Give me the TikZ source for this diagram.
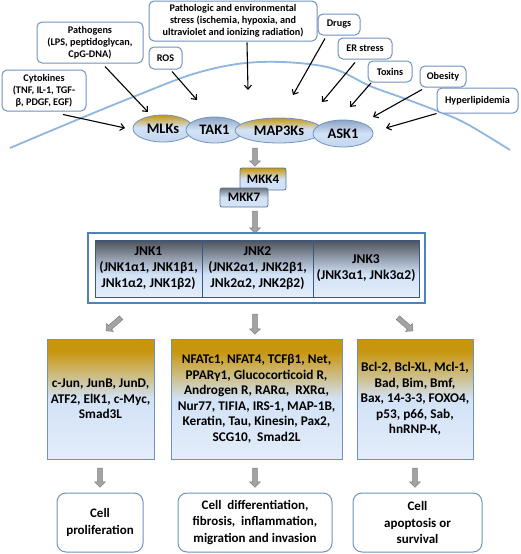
\documentclass[tikz,border=0pt]{standalone}
\usepackage{fontspec}
\setmainfont{Carlito}
\usetikzlibrary{shapes.geometric,shapes.arrows,arrows.meta}
\definecolor{gold}{HTML}{C8960C}
\definecolor{lblue}{HTML}{D2E2F7}
\definecolor{lblue2}{HTML}{E4EDFA}
\definecolor{bgrey}{HTML}{8DA3C3}
\definecolor{dgrey}{HTML}{4C5059}
\definecolor{bord}{HTML}{6F93C0}
\definecolor{memb}{HTML}{8DB6E0}
\definecolor{arrg}{HTML}{A3A3A3}
\definecolor{arrd}{HTML}{7E7E7E}
\definecolor{jnkb}{HTML}{4F81BD}
\pgfdeclareverticalshading{goldbox}{100bp}{color(0bp)=(lblue2); color(25bp)=(lblue2); color(50bp)=(lblue); color(70bp)=(gold); color(100bp)=(gold)}
\pgfdeclareverticalshading{goldell}{100bp}{color(0bp)=(lblue!80!bgrey); color(25bp)=(lblue!80!bgrey); color(52bp)=(lblue); color(75bp)=(gold); color(100bp)=(gold)}
\pgfdeclareverticalshading{greyell}{100bp}{color(0bp)=(lblue!80!bgrey); color(25bp)=(lblue!80!bgrey); color(50bp)=(lblue); color(75bp)=(bgrey); color(100bp)=(bgrey)}
\pgfdeclareverticalshading{jnkshade}{100bp}{color(0bp)=(lblue2); color(25bp)=(lblue2); color(45bp)=(lblue); color(75bp)=(dgrey); color(100bp)=(dgrey)}
\pgfdeclareverticalshading{mkkgrey}{100bp}{color(0bp)=(lblue); color(25bp)=(lblue); color(50bp)=(lblue); color(75bp)=(dgrey!80); color(100bp)=(dgrey!80)}
\pgfdeclareverticalshading{mkkgold}{100bp}{color(0bp)=(lblue); color(25bp)=(lblue); color(50bp)=(lblue); color(75bp)=(gold); color(100bp)=(gold)}
\begin{document}
\begin{tikzpicture}[x=1pt,y=-1pt,
  lbl/.style={draw=bord, line width=1pt, fill=white, rounded corners=5pt, inner sep=0pt, align=center, font=\fontsize{10.2}{12}\selectfont\bfseries},
  ell/.style={ellipse, draw=bord, line width=0.8pt, inner sep=0pt, font=\fontsize{14.5}{16}\selectfont\bfseries},
  mkk/.style={draw=bord!80!black, line width=0.8pt, rounded corners=2pt, inner sep=0pt, font=\fontsize{13}{15}\selectfont\bfseries},
  jcell/.style={draw=jnkb!70!black, line width=0.8pt, shading=jnkshade, inner sep=0pt, align=center, font=\fontsize{13.5}{16}\selectfont\bfseries},
  tbox/.style={draw=bord, line width=1pt, shading=goldbox, inner sep=0pt, align=center, font=\fontsize{13.3}{15.5}\selectfont\bfseries},
  obox/.style={draw=bord, line width=1pt, fill=white, rounded corners=9pt, inner sep=0pt, align=center, font=\fontsize{13}{16.5}\selectfont\bfseries},
  blk/.style={single arrow, fill=arrg, draw=arrd, line width=0.5pt, inner sep=2.2pt, single arrow head extend=2.8pt, minimum height=#1},
  sig/.style={draw=black, line width=1.1pt, -{Straight Barb[length=4pt,width=7pt]}}
]
\useasboundingbox (0,0) rectangle (520,554);
% membrane
\draw[memb, line width=1.8pt] plot[smooth, tension=0.6] coordinates {(10,148) (67,124) (133,97) (200,72) (260,62) (327,67) (370,86) (403,98) (440,112) (467,124) (510,150)};
% stimulus labels
\node[lbl, minimum width=84pt, minimum height=41pt] (cyt) at (44,90.5) {Cytokines\\(TNF, IL-1, TGF-\\β, PDGF, EGF)};
\node[lbl, minimum width=106pt, minimum height=41pt] (pat) at (90,42.5) {Pathogens\\(LPS, peptidoglycan,\\CpG-DNA)};
\node[lbl, minimum width=33pt, minimum height=22pt] (ros) at (165.5,58) {ROS};
\node[lbl, minimum width=168pt, minimum height=40pt] (pst) at (233,21) {Pathologic and environmental\\stress (ischemia, hypoxia, and\\ultraviolet and ionizing radiation)};
\node[lbl, minimum width=42pt, minimum height=21pt] (drg) at (339,24.5) {Drugs};
\node[lbl, minimum width=54pt, minimum height=21pt] (ers) at (365,48.5) {ER stress};
\node[lbl, minimum width=44pt, minimum height=21pt] (tox) at (390,71.5) {Toxins};
\node[lbl, minimum width=46pt, minimum height=21pt] (obe) at (443,76.5) {Obesity};
\node[lbl, minimum width=81pt, minimum height=25pt] (hyp) at (477.5,100.5) {Hyperlipidemia};
% kinases
\node[ell, shading=goldell, minimum width=60pt, minimum height=27pt] (mlk) at (163,128.5) {MLKs};
\node[ell, shading=greyell, minimum width=57pt, minimum height=26pt] (tak) at (214.5,130) {TAK1};
\node[ell, shading=goldell, minimum width=88pt, minimum height=25pt] (m3k) at (279,130.5) {MAP3Ks};
\node[ell, shading=greyell, minimum width=60pt, minimum height=27pt] (ask) at (343,133.5) {ASK1};
% arrow end points
\coordinate (e1) at (125,128);
\coordinate (e2) at (148,112);
\coordinate (e3) at (197,100);
\coordinate (e4) at (248,90);
\coordinate (e5) at (293,95);
\coordinate (e6) at (322,102);
\coordinate (e7) at (350,107);
\coordinate (e8) at (373,117);
\coordinate (e9) at (386,128);
\draw[sig] ([shift={(19,3)}]cyt.south) -- (e1);
\draw[sig] ([shift={(15,3)}]pat.south) -- (e2);
\draw[sig] ([shift={(6.5,2)}]ros.south) -- (e3);
\draw[sig] ([shift={(14,1)}]pst.south) -- (e4);
\draw[sig] ([shift={(-14,3)}]drg.south) -- (e5);
\draw[sig] ([shift={(-10,3)}]ers.south) -- (e6);
\draw[sig] ([shift={(-19,0.5)}]tox.south) -- (e7);
\draw[sig] ([shift={(-21,2)}]obe.south) -- (e8);
\draw[sig] (hyp.south west) -- (e9);
% MKKs
\node[blk=18pt, rotate=-90] (a0) at (255,156) {};
\node[mkk, shading=mkkgold, minimum width=46pt, minimum height=22pt] (mkk4) at (263,179) {MKK4};
\node[mkk, shading=mkkgrey, minimum width=48pt, minimum height=19pt] (mkk7) at (244,197.5) {MKK7};
\node[blk=22pt, rotate=-90] (a1) at (255,221) {};
% JNK
\node[draw=jnkb, line width=1.8pt, fill=white, minimum width=337pt, minimum height=70pt, inner sep=0pt] (jnk) at (256.5,268) {};
\node[jcell, minimum width=107pt, minimum height=57pt] (jnk1) at (148.5,268.5) {JNK1\\(JNK1α1, JNK1β1,\\JNk1α2, JNK1β2)};
\node[jcell, minimum width=111pt, minimum height=57pt] (jnk2) at (257.5,268.5) {JNK2\\(JNK2α1, JNK2β1,\\JNk2α2, JNK2β2)};
\node[jcell, minimum width=106pt, minimum height=57pt] (jnk3) at (366,268.5) {JNK3\\(JNK3α1, JNk3α2)};
\node[blk=20pt, rotate=221] (a2) at (114.5,323.5) {};
\node[blk=20pt, rotate=-90] (a3) at (255,323) {};
\node[blk=20pt, rotate=-41] (a4) at (404.5,323.5) {};
% targets
\node[tbox, minimum width=107pt, minimum height=120pt] (t1) at (100.5,399) {c-Jun, JunB, JunD,\\ATF2, ElK1, c-Myc,\\Smad3L};
\node[tbox, minimum width=171pt, minimum height=120pt] (t2) at (256.5,399) {NFATc1, NFAT4, TCFβ1, Net,\\PPARγ1, Glucocorticoid R,\\Androgen R, RARα,\ \ RXRα,\\Nur77, TIFIA, IRS-1, MAP-1B,\\Keratin, Tau, Kinesin, Pax2,\\SCG10,\ \ Smad2L};
\node[tbox, minimum width=116pt, minimum height=120pt] (t3) at (415,399) {Bcl-2, Bcl-XL, Mcl-1,\\Bad, Bim, Bmf,\\Bax, 14-3-3, FOXO4,\\p53, p66, Sab,\\hnRNP-K,};
\node[blk=19pt, rotate=-90] (a5) at (100,476.5) {};
\node[blk=19pt, rotate=-90] (a6) at (255,476.5) {};
\node[blk=19pt, rotate=-90] (a7) at (415,476.5) {};
% outcomes
\node[obox, minimum width=86pt, minimum height=59pt] (o1) at (100,522.5) {Cell\\proliferation};
\node[obox, minimum width=154pt, minimum height=59pt] (o2) at (255,522.5) {Cell\ \ differentiation,\\fibrosis,\ \ inflammation,\\migration and invasion};
\node[obox, minimum width=129pt, minimum height=59pt] (o3) at (417.5,522.5) {Cell\\apoptosis or\\survival};
\end{tikzpicture}
\end{document}
